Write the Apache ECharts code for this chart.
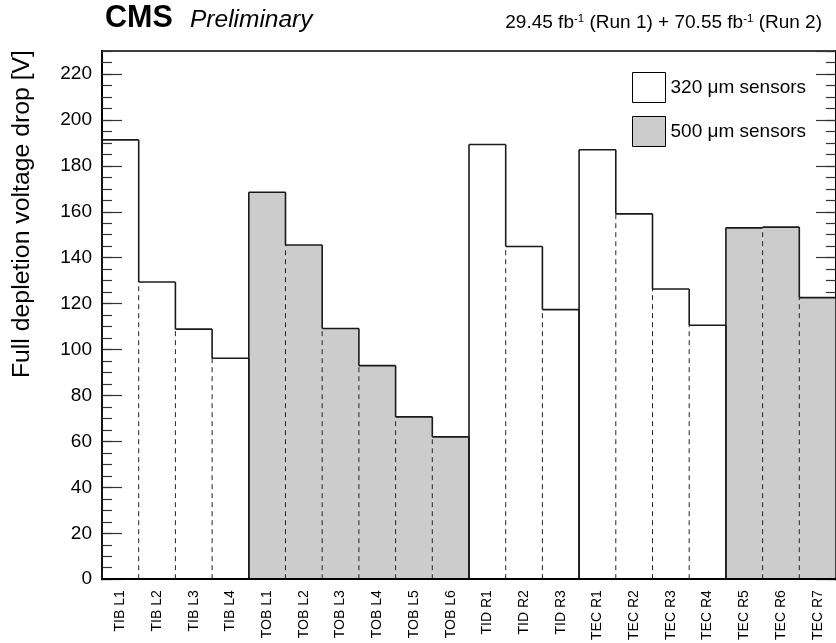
<!DOCTYPE html>
<html>
<head>
<meta charset="utf-8">
<script src="https://cdn.jsdelivr.net/npm/echarts@6/dist/echarts.min.js"></script>
<style>
  html, body { margin: 0; padding: 0; background: #ffffff; }
  #chart { width: 836px; height: 643px; }
</style>
</head>
<body>
<div id="chart"></div>
<script>
// Tracker layers / rings
const categories = ['TIB L1', 'TIB L2', 'TIB L3', 'TIB L4',
  'TOB L1', 'TOB L2', 'TOB L3', 'TOB L4', 'TOB L5', 'TOB L6',
  'TID R1', 'TID R2', 'TID R3',
  'TEC R1', 'TEC R2', 'TEC R3', 'TEC R4', 'TEC R5', 'TEC R6', 'TEC R7'];
// Full depletion voltage drop [V]
const voltageDrop = [191.3, 129.4, 108.9, 96.2,
  168.5, 145.5, 109.2, 93.0, 70.7, 62.0,
  189.3, 144.9, 117.4,
  187.0, 159.1, 126.4, 110.6, 153.0, 153.3, 122.6];
// Sensor thickness in micrometres
const thickness = [320, 320, 320, 320,
  500, 500, 500, 500, 500, 500,
  320, 320, 320,
  320, 320, 320, 320, 500, 500, 500];
// Histogram each bin belongs to (outline is drawn per histogram)
const histGroup = ['TIB', 'TIB', 'TIB', 'TIB',
  'TOB', 'TOB', 'TOB', 'TOB', 'TOB', 'TOB',
  'TID', 'TID', 'TID',
  'TEC320', 'TEC320', 'TEC320', 'TEC320', 'TEC500', 'TEC500', 'TEC500'];
const yMin = 0, yMax = 230, yMajor = 20, yMinor = 5;

const FONT = "'Liberation Sans', Arial, Helvetica, sans-serif";
const LABEL_320 = '320 \u03bcm sensors';
const LABEL_500 = '500 \u03bcm sensors';
const FILL_500 = '#cccccc';

const chart = echarts.init(document.getElementById('chart'), null, { renderer: 'canvas' });

function fillData(t) {
  const out = [];
  voltageDrop.forEach((v, i) => { if (thickness[i] === t) out.push([i, v]); });
  return out;
}

function makeFillRender(fill) {
  return function (params, api) {
    const i = api.value(0), v = api.value(1);
    const top = api.coord([i, v]);
    const base = api.coord([i, 0]);
    const w = api.size([1, 0])[0];
    return {
      type: 'rect',
      shape: { x: top[0] - w / 2, y: top[1], width: w, height: base[1] - top[1] },
      style: { fill: fill, stroke: null }
    };
  };
}

// Outline data: [index, value, previous value in same histogram (or -1), isFirst, isLast]
const outlineData = voltageDrop.map((v, i) => {
  const first = i === 0 || histGroup[i - 1] !== histGroup[i];
  const last = i === voltageDrop.length - 1 || histGroup[i + 1] !== histGroup[i];
  return [i, v, first ? -1 : voltageDrop[i - 1], first ? 1 : 0, last ? 1 : 0];
});

const SOLID = { stroke: '#1a1a1a', lineWidth: 1.6 };
const DASHED = { stroke: '#222222', lineWidth: 1, lineDash: [5, 4] };

function outlineRender(params, api) {
  const i = api.value(0), v = api.value(1), prev = api.value(2);
  const first = api.value(3) === 1, last = api.value(4) === 1;
  const w = api.size([1, 0])[0];
  const c = api.coord([i, v]);
  const x0 = c[0] - w / 2, x1 = c[0] + w / 2;
  const yBase = api.coord([i, 0])[1];
  const yTop = c[1];
  const children = [];
  children.push({ type: 'line', shape: { x1: x0, y1: yTop, x2: x1, y2: yTop }, style: SOLID });
  if (first) {
    children.push({ type: 'line', shape: { x1: x0, y1: yBase, x2: x0, y2: yTop }, style: SOLID });
  } else {
    const lo = Math.min(prev, v), hi = Math.max(prev, v);
    const yLo = api.coord([i, lo])[1], yHi = api.coord([i, hi])[1];
    children.push({ type: 'line', shape: { x1: x0, y1: yBase, x2: x0, y2: yLo }, style: DASHED });
    children.push({ type: 'line', shape: { x1: x0, y1: yLo, x2: x0, y2: yHi }, style: SOLID });
  }
  if (last) {
    children.push({ type: 'line', shape: { x1: x1, y1: yBase, x2: x1, y2: yTop }, style: SOLID });
  }
  return { type: 'group', children: children };
}

function yAxisDef(position, interval, tickLen, showLabel) {
  return {
    type: 'value',
    position: position,
    min: yMin,
    max: yMax,
    interval: interval,
    axisLine: { show: true, onZero: false, lineStyle: { color: '#000', width: 2 } },
    axisTick: { show: true, inside: true, length: tickLen, lineStyle: { color: '#333', width: 1.2 } },
    axisLabel: {
      show: showLabel, showMaxLabel: false, margin: 10,
      color: '#000', fontSize: 19, fontFamily: FONT
    },
    splitLine: { show: false }
  };
}

const option = {
  backgroundColor: '#ffffff',
  animation: false,
  grid: { left: 102, top: 51, width: 737, height: 530, containLabel: false },
  legend: {
    orient: 'vertical',
    left: 627,
    top: 67,
    itemWidth: 33,
    itemHeight: 30,
    itemGap: 13,
    icon: 'rect',
    selectedMode: false,
    textStyle: { color: '#000', fontSize: 19, fontFamily: FONT },
    data: [
      { name: LABEL_320, itemStyle: { color: '#ffffff', borderColor: '#000', borderWidth: 1 } },
      { name: LABEL_500, itemStyle: { color: FILL_500, borderColor: '#000', borderWidth: 1 } }
    ]
  },
  xAxis: [
    {
      type: 'category',
      data: categories,
      boundaryGap: true,
      position: 'bottom',
      z: 5,
      axisLine: { show: true, onZero: false, lineStyle: { color: '#000', width: 2 } },
      axisTick: { show: false },
      axisLabel: {
        rotate: 90, interval: 0, margin: 11,
        color: '#000', fontSize: 14, fontFamily: FONT
      },
      splitLine: { show: false }
    },
    {
      type: 'category',
      data: categories,
      boundaryGap: true,
      position: 'top',
      axisLine: { show: true, onZero: false, lineStyle: { color: '#000', width: 1.5 } },
      axisTick: { show: false },
      axisLabel: { show: false },
      splitLine: { show: false }
    }
  ],
  yAxis: [
    yAxisDef('left', yMajor, 20, true),
    yAxisDef('left', yMinor, 10, false),
    yAxisDef('right', yMajor, 20, false),
    yAxisDef('right', yMinor, 10, false)
  ],
  series: [
    {
      name: LABEL_320,
      type: 'custom',
      xAxisIndex: 0, yAxisIndex: 0,
      itemStyle: { color: '#ffffff', borderColor: '#000' },
      renderItem: makeFillRender('rgba(255,255,255,0)'),
      data: fillData(320),
      z: 2
    },
    {
      name: LABEL_500,
      type: 'custom',
      xAxisIndex: 0, yAxisIndex: 0,
      itemStyle: { color: FILL_500, borderColor: '#000' },
      renderItem: makeFillRender(FILL_500),
      data: fillData(500),
      z: 2
    },
    {
      name: 'outline',
      type: 'custom',
      xAxisIndex: 0, yAxisIndex: 0,
      renderItem: outlineRender,
      data: outlineData,
      silent: true,
      z: 3
    }
  ],
  graphic: [
    {
      type: 'text',
      x: 22, y: 50,
      rotation: Math.PI / 2,
      style: {
        text: 'Full depletion voltage drop [V]',
        fill: '#000', font: '24.8px ' + FONT,
        align: 'right', verticalAlign: 'middle'
      }
    },
    {
      type: 'text',
      x: 105, y: 19,
      style: {
        text: 'CMS', fill: '#000', font: 'bold 30.5px ' + FONT,
        align: 'left', verticalAlign: 'middle'
      }
    },
    {
      type: 'text',
      x: 190, y: 20,
      style: {
        text: 'Preliminary', fill: '#000', font: 'italic 24.5px ' + FONT,
        align: 'left', verticalAlign: 'middle'
      }
    },
    {
      type: 'text',
      x: 822, y: 23,
      style: {
        text: '29.45 fb{sup|-1} (Run 1) + 70.55 fb{sup|-1} (Run 2)',
        fill: '#000', fontSize: 19, fontFamily: FONT,
        align: 'right', verticalAlign: 'middle',
        rich: {
          sup: { fontSize: 11.5, fontFamily: FONT, fill: '#000', verticalAlign: 'top', padding: [0, 0, 8, 0] }
        }
      }
    }
  ]
};

chart.setOption(option);
</script>
</body>
</html>
